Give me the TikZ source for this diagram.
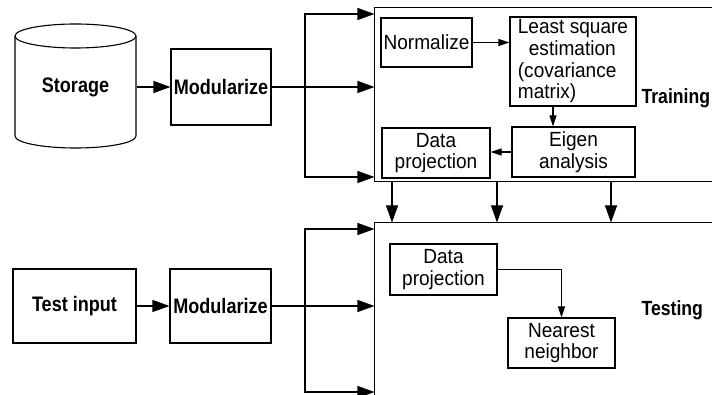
\documentclass[tikz,border=0pt]{standalone}
\usepackage{fontspec}
\setmainfont{Liberation Sans}
\newfontfamily\headfont[FakeStretch=0.86]{Liberation Sans}
\newfontfamily\bodyfont[FakeStretch=0.93]{Liberation Sans}
\usetikzlibrary{arrows.meta}
\begin{document}
\begin{tikzpicture}[x=1pt,y=-1pt,
  line width=1.1pt,
  procbox/.style={draw, rectangle, inner sep=0pt, align=center,
    font=\bodyfont\fontsize{20.5}{21.7}\selectfont},
  mainbox/.style={draw, rectangle, inner sep=0pt, align=center,
    font=\headfont\bfseries\fontsize{21}{22}\selectfont},
  tagtext/.style={inner sep=0pt, font=\headfont\bfseries\fontsize{20.5}{22}\selectfont},
  region/.style={draw=none, rectangle, inner sep=0pt},
  bigarr/.style={-{Triangle[length=17pt,width=12pt]}},
  smallarr/.style={-{Triangle[length=11pt,width=7pt]}},
]
% page
\fill[white] (0,0) rectangle (712,395);
\path[use as bounding box] (0,0) rectangle (712,395);

% ---------- training branch ----------
% storage cylinder
\draw (15,36) -- (15,136) arc[start angle=180, end angle=360, x radius=60.5pt, y radius=12pt] -- (136,36);
\draw (75.5,36) ellipse[x radius=60.5pt, y radius=12pt];
\node[region, minimum width=121pt, font=\headfont\bfseries\fontsize{21}{22}\selectfont] (storage) at (75.5,87) {Storage};

\node[mainbox, minimum width=100pt, minimum height=76pt] (mod1) at (221,87) {Modularize};
\draw[bigarr] (storage.east) -- (mod1.west);

% training region (open on the right)
\node[region, minimum width=337pt, minimum height=173pt] (train) at (543.5,94.5) {};
\draw (train.north east) -- (train.north west) -- (train.south west) -- (train.south east);

\coordinate (s1) at (305,87);
\coordinate (ya) at (0,14);
\coordinate (yb) at (0,177);
\draw (mod1.east) -- (s1);
\draw[bigarr] (s1) |- (train.west |- ya);
\draw[bigarr] (s1) -- (s1 -| train.west);
\draw[bigarr] (s1) |- (train.west |- yb);

\node[procbox, minimum width=91pt, minimum height=49pt] (norm) at (426.5,42.5) {Normalize};
\node[procbox, minimum width=126pt, minimum height=89pt, align=left] (lse) at (573,61.5)
  {Least square\\\hspace*{11pt}estimation\\(covariance\\matrix)};
\node[procbox, minimum width=123pt, minimum height=50pt] (eig) at (573.5,152) {Eigen\\analysis};
\node[procbox, minimum width=108pt, minimum height=50pt] (dp1) at (436,153) {Data\\projection};
\node[tagtext, anchor=west] (trtag) at (641,98) {Training};

\coordinate (xa) at (553,0);
\draw[smallarr] (norm.east) -- (norm.east -| lse.west);
\draw[smallarr] (lse.south -| xa) -- (eig.north -| xa);
\draw[smallarr] (eig.west) -- (eig.west -| dp1.east);

% ---------- testing branch ----------
\node[region, minimum width=337pt, minimum height=172pt] (testing) at (543.5,309) {};
\draw (testing.north east) -- (testing.north west) -- (testing.south west);

\coordinate (d1) at (392,0);
\coordinate (d2) at (497,0);
\coordinate (d3) at (611,0);
\draw[bigarr] (train.south -| d1) -- (testing.north -| d1);
\draw[bigarr] (train.south -| d2) -- (testing.north -| d2);
\draw[bigarr] (train.south -| d3) -- (testing.north -| d3);

\node[mainbox, minimum width=123pt, minimum height=74pt] (tin) at (74.5,306) {Test input};
\node[mainbox, minimum width=101pt, minimum height=74pt] (mod2) at (220.5,306) {Modularize};
\draw[bigarr] (tin.east) -- (mod2.west);

\coordinate (s2) at (305,306);
\coordinate (yc) at (0,229);
\coordinate (yd) at (0,392);
\draw (mod2.east) -- (s2);
\draw[bigarr] (s2) |- (testing.west |- yc);
\draw[bigarr] (s2) -- (s2 -| testing.west);
\draw[bigarr] (s2) |- (testing.west |- yd);

\node[procbox, minimum width=107pt, minimum height=51pt] (dp2) at (443.5,269.5) {Data\\projection};
\node[procbox, minimum width=107pt, minimum height=50pt] (nn) at (561.5,343) {Nearest\\neighbor};
\node[tagtext, anchor=west] (tetag) at (641,310) {Testing};
\draw[smallarr] (dp2.east) -| (nn.north);
\end{tikzpicture}
\end{document}
